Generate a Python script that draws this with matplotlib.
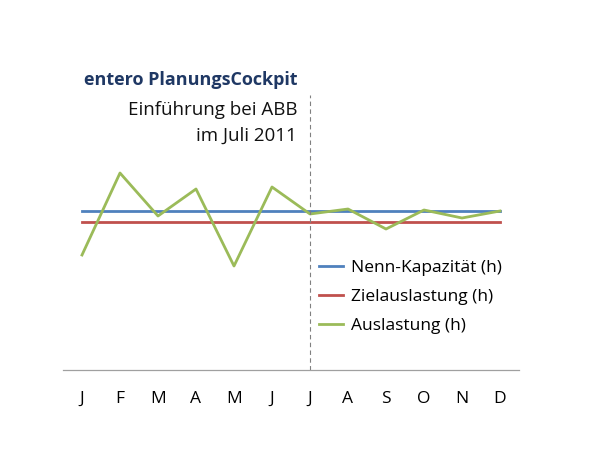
import matplotlib.pyplot as plt

# Monatsdaten (h)
months = ['J', 'F', 'M', 'A', 'M', 'J', 'J', 'A', 'S', 'O', 'N', 'D']
nenn_kapazitaet = [159] * 12
zielauslastung = [148] * 12
auslastung = [115, 197, 154, 181, 104, 183, 156, 161, 141, 160, 152, 159]

plt.rcParams['font.family'] = ['Open Sans', 'DejaVu Sans']

fig = plt.figure(figsize=(5.95, 4.75), dpi=100)
ax = fig.add_axes([63 / 595, 1 - 370 / 475, 456 / 595, 275 / 475])

x = list(range(len(months)))
ax.plot(x, nenn_kapazitaet, color='#4F81BD', lw=2, label='Nenn-Kapazität (h)')
ax.plot(x, zielauslastung, color='#C0504D', lw=2, label='Zielauslastung (h)')
ax.plot(x, auslastung, color='#9BBB59', lw=2, label='Auslastung (h)')

# Einführung im Juli
ax.axvline(6, color='#808080', lw=0.8, ls=(0, (4, 3)))

ax.set_xlim(-0.5, 11.5)
ax.set_ylim(0, 275)
ax.set_xticks(x)
ax.set_xticklabels(months, fontsize=12.5)
ax.tick_params(axis='x', length=0, pad=15)
ax.set_yticks([])
for s in ['top', 'right', 'left']:
    ax.spines[s].set_visible(False)
ax.spines['bottom'].set_color('#a0a0a0')
ax.spines['bottom'].set_linewidth(0.9)

fig.text(297 / 595, 1 - 80 / 475, 'entero PlanungsCockpit', ha='right', va='center',
         fontsize=13, fontweight='bold', color='#1F3864')
fig.text(297 / 595, 1 - 110 / 475, 'Einführung bei ABB', ha='right', va='center',
         fontsize=13.5, color='#111111')
fig.text(297 / 595, 1 - 136 / 475, 'im Juli 2011', ha='right', va='center',
         fontsize=13.5, color='#111111')

ax.legend(loc='upper left', bbox_to_anchor=(303 / 595, 1 - 244 / 475),
          bbox_transform=fig.transFigure, frameon=False, fontsize=12.5,
          handlelength=1.4, handletextpad=0.45, labelspacing=0.75)

fig.savefig('out.png', dpi=100)
